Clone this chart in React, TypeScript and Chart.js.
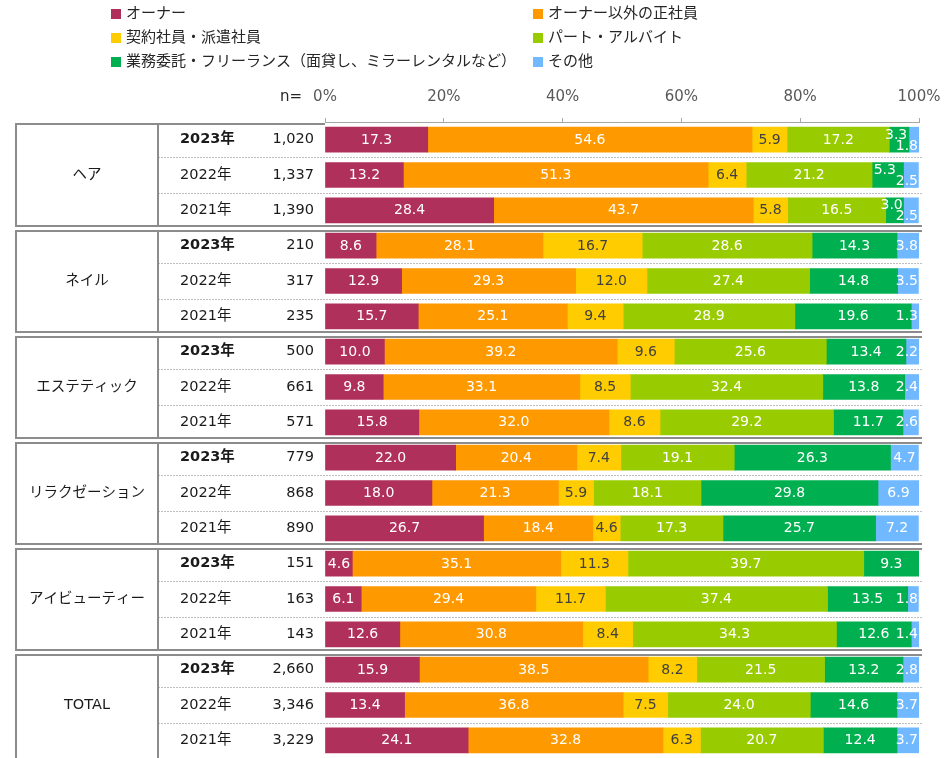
import React, { useEffect, useRef } from "react";
import { Chart, registerables } from "chart.js";

Chart.register(...registerables);

const groups = ["ヘア", "ネイル", "エステティック", "リラクゼーション", "アイビューティー", "TOTAL"];
const years = ["2023年", "2022年", "2021年"];
const nValues = [
  "1,020", "1,337", "1,390",
  "210", "317", "235",
  "500", "661", "571",
  "779", "868", "890",
  "151", "163", "143",
  "2,660", "3,346", "3,229",
];

const seriesNames = [
  "オーナー",
  "オーナー以外の正社員",
  "契約社員・派遣社員",
  "パート・アルバイト",
  "業務委託・フリーランス（面貸し、ミラーレンタルなど）",
  "その他",
];
const seriesColors = ["#B0305C", "#FF9900", "#FFCC00", "#99CC00", "#00B050", "#70B8FF"];
const labelColors = ["#FFFFFF", "#FFFFFF", "#404040", "#FFFFFF", "#FFFFFF", "#FFFFFF"];

const owner = [17.3, 13.2, 28.4, 8.6, 12.9, 15.7, 10.0, 9.8, 15.8, 22.0, 18.0, 26.7, 4.6, 6.1, 12.6, 15.9, 13.4, 24.1];
const regular = [54.6, 51.3, 43.7, 28.1, 29.3, 25.1, 39.2, 33.1, 32.0, 20.4, 21.3, 18.4, 35.1, 29.4, 30.8, 38.5, 36.8, 32.8];
const contract = [5.9, 6.4, 5.8, 16.7, 12.0, 9.4, 9.6, 8.5, 8.6, 7.4, 5.9, 4.6, 11.3, 11.7, 8.4, 8.2, 7.5, 6.3];
const partTime = [17.2, 21.2, 16.5, 28.6, 27.4, 28.9, 25.6, 32.4, 29.2, 19.1, 18.1, 17.3, 39.7, 37.4, 34.3, 21.5, 24.0, 20.7];
const freelance = [3.3, 5.3, 3.0, 14.3, 14.8, 19.6, 13.4, 13.8, 11.7, 26.3, 29.8, 25.7, 9.3, 13.5, 12.6, 13.2, 14.6, 12.4];
const other = [1.8, 2.5, 2.5, 3.8, 3.5, 1.3, 2.2, 2.4, 2.6, 4.7, 6.9, 7.2, 0, 1.8, 1.4, 2.8, 3.7, 3.7];
const seriesValues = [owner, regular, contract, partTime, freelance, other];

// rows where the two small end labels are staggered (up / down)
const staggeredRows = [0, 1, 2];

const xTicks = ["0%", "20%", "40%", "60%", "80%", "100%"];

const FONT = '"DejaVu Sans", "Noto Sans CJK JP", sans-serif';

const rowLabels = groups.flatMap((g) => years.map((y) => `${g} ${y}`));

const overlayPlugin = {
  id: "overlay",
  afterDatasetsDraw(chart: any) {
    const ctx = chart.ctx;
    const area = chart.chartArea;
    ctx.save();
    ctx.font = `14px ${FONT}`;
    ctx.textAlign = "center";
    ctx.textBaseline = "middle";
    chart.data.datasets.forEach((ds: any, di: number) => {
      const meta = chart.getDatasetMeta(di);
      meta.data.forEach((el: any, i: number) => {
        const v = ds.data[i];
        if (!v) return;
        const text = v.toFixed(1);
        const p = el.getProps(["x", "y", "base"], true);
        let cx = (p.x + p.base) / 2;
        let cy = p.y;
        if (staggeredRows.includes(i)) {
          if (di === 4) { cy -= 5; cx -= 3; }
          if (di === 5) { cy += 6; }
        }
        const w = ctx.measureText(text).width;
        const maxRight = area.right - 1;
        if (cx + w / 2 > maxRight) cx = maxRight - w / 2;
        ctx.fillStyle = labelColors[di];
        ctx.fillText(text, cx, cy + 0.5);
      });
    });
    ctx.restore();
  },
  afterDraw(chart: any) {
    const ctx = chart.ctx;
    const area = chart.chartArea;
    const yS = chart.scales.y;
    const yAt = (i: number) => yS.getPixelForValue(i);
    const xLeft = 16;
    const xDiv = 158;
    const xEnd = 922;
    ctx.save();

    ctx.strokeStyle = "#BFBFBF";
    ctx.lineWidth = 1;
    ctx.setLineDash([2, 1]);
    for (let g = 0; g < groups.length; g++) {
      for (let r = 0; r < 2; r++) {
        const i = g * 3 + r;
        const yy = Math.round((yAt(i) + yAt(i + 1)) / 2) + 0.5;
        ctx.beginPath();
        ctx.moveTo(xDiv, yy);
        ctx.lineTo(xEnd, yy);
        ctx.stroke();
      }
    }
    ctx.setLineDash([]);

    ctx.strokeStyle = "#8C8C8C";
    ctx.lineWidth = 2;
    const tops: number[] = [];
    const bottoms: number[] = [];
    for (let g = 0; g < groups.length; g++) {
      if (g === 0) tops.push(area.top + 2);
      else {
        const b = (yAt(g * 3 - 1) + yAt(g * 3)) / 2;
        bottoms.push(b - 2.5);
        tops.push(b + 2.5);
      }
    }
    bottoms.push(chart.height + 2);
    for (let g = 0; g < groups.length; g++) {
      const t = Math.round(tops[g]);
      const btm = Math.round(bottoms[g]);
      ctx.beginPath();
      ctx.moveTo(xLeft - 1, t);
      ctx.lineTo(g === 0 ? area.left : xEnd, t);
      ctx.stroke();
      if (g < groups.length - 1) {
        ctx.beginPath();
        ctx.moveTo(xLeft - 1, btm);
        ctx.lineTo(xEnd, btm);
        ctx.stroke();
      }
      ctx.beginPath();
      ctx.moveTo(xLeft, t);
      ctx.lineTo(xLeft, btm);
      ctx.moveTo(xDiv, t);
      ctx.lineTo(xDiv, btm);
      ctx.stroke();
    }

    ctx.fillStyle = "#1A1A1A";
    ctx.textBaseline = "middle";
    for (let g = 0; g < groups.length; g++) {
      ctx.font = `14.5px ${FONT}`;
      ctx.textAlign = "center";
      ctx.fillText(groups[g], (xLeft + xDiv) / 2, yAt(g * 3 + 1));
      for (let r = 0; r < 3; r++) {
        const i = g * 3 + r;
        ctx.textAlign = "left";
        ctx.font = `${r === 0 ? "bold " : ""}14.5px ${FONT}`;
        ctx.fillText(years[r], 180, yAt(i));
        ctx.font = `14.5px ${FONT}`;
        ctx.textAlign = "right";
        ctx.fillText(nValues[i], 314, yAt(i));
      }
    }

    ctx.font = `15px ${FONT}`;
    ctx.textAlign = "right";
    ctx.fillStyle = "#262626";
    ctx.fillText("n=", 302, 97);

    ctx.font = `15px ${FONT}`;
    ctx.textAlign = "left";
    const colX = [111, 533];
    const rowY = [14, 38, 62];
    seriesNames.forEach((name, i) => {
      const cx = colX[i % 2];
      const cy = rowY[Math.floor(i / 2)];
      ctx.fillStyle = seriesColors[i];
      ctx.fillRect(cx, cy - 5, 10, 10);
      ctx.fillStyle = "#262626";
      ctx.fillText(name, cx + 15, cy);
    });
    ctx.restore();
  },
};

export default function App() {
  const ref = useRef<HTMLCanvasElement | null>(null);
  useEffect(() => {
    document.body.style.margin = "0";
    const canvas = ref.current;
    if (!canvas) return;
    const chart = new Chart(canvas, {
      type: "bar",
      data: {
        labels: rowLabels,
        datasets: seriesValues.map((vals, i) => ({
          label: seriesNames[i],
          data: vals,
          backgroundColor: seriesColors[i],
          borderWidth: 0,
          barThickness: 25,
        })),
      },
      options: {
        indexAxis: "y",
        responsive: false,
        animation: false,
        events: [],
        layout: { padding: { left: 325, right: 26, top: 0, bottom: 0 } },
        plugins: {
          legend: { display: false },
          tooltip: { enabled: false },
          title: { display: false },
        },
        scales: {
          x: {
            type: "linear",
            position: "top",
            stacked: true,
            min: 0,
            max: 100,
            afterFit: (s: any) => {
              s.height = 122;
              s.paddingLeft = 0;
              s.paddingRight = 0;
            },
            afterBuildTicks: (s: any) => {
              s.ticks = xTicks.map((_, k) => ({ value: k * 20 }));
            },
            ticks: {
              callback: (_v: any, idx: number) => xTicks[idx],
              color: "#595959",
              font: { size: 15, family: FONT },
              padding: 12,
              maxRotation: 0,
            },
            grid: {
              drawOnChartArea: false,
              drawTicks: true,
              tickLength: 4,
              color: "#A6A6A6",
            },
            border: { display: true, color: "#A6A6A6", width: 1 },
          },
          y: {
            type: "category",
            stacked: true,
            display: false,
          },
        },
      },
      plugins: [overlayPlugin],
    } as any);
    return () => chart.destroy();
  }, []);
  return (
    <div style={{ width: 945, height: 758, position: "relative" }}>
      <canvas ref={ref} width={945} height={758} />
    </div>
  );
}
